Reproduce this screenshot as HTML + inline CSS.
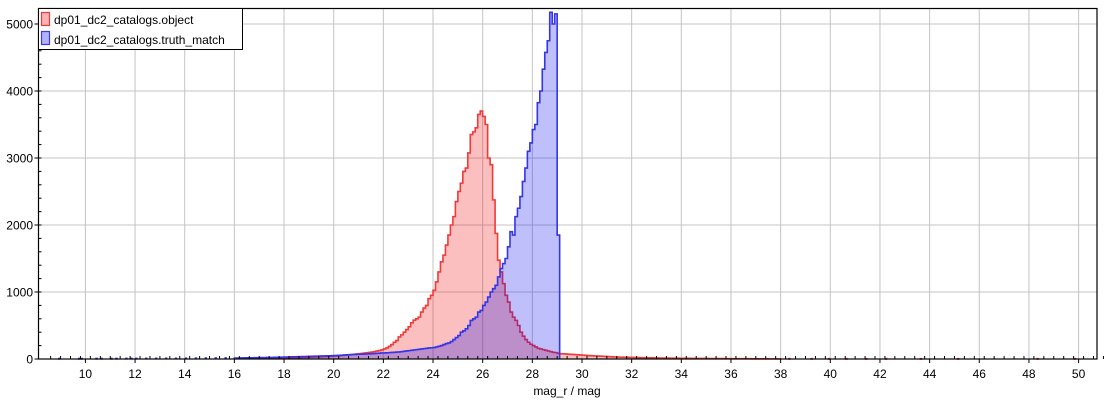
<!DOCTYPE html>
<html><head><meta charset="utf-8"><style>
body{margin:0;background:#fff;}
svg{display:block;font-family:"Liberation Sans","DejaVu Sans",sans-serif;}
</style></head><body>
<svg id="chart" width="1107" height="400" xmlns="http://www.w3.org/2000/svg">
<rect x="0" y="0" width="1107" height="400" fill="#fff"/>
<g id="grid"></g>
<g id="series"></g>
<g id="axes"></g>
<text x="567" y="395" font-size="12" text-anchor="middle" fill="#000">mag_r / mag</text>
<g>
<rect x="38.5" y="8.5" width="204" height="41" fill="#fff" stroke="#000" stroke-width="1"/>
<g>
<rect x="41.5" y="12.5" width="8" height="13" fill="rgba(240,0,0,0.3)" stroke="#f03a3a" stroke-width="1.2"/>
<text x="54" y="24" font-size="12" fill="#000">dp01_dc2_catalogs.object</text></g>
<g>
<rect x="41.5" y="31.5" width="8" height="13" fill="rgba(0,0,240,0.3)" stroke="#3a3af0" stroke-width="1.2"/>
<text x="54" y="44" font-size="12" fill="#000">dp01_dc2_catalogs.truth_match</text></g>
</g>
</svg>
<script>
// x ticks, y ticks
const xTicks = [10,12,14,16,18,20,22,24,26,28,30,32,34,36,38,40,42,44,46,48,50];
const yTicks = [0,1000,2000,3000,4000,5000];
const binWidth = 0.1;
// object (red): bins starting at 16.0
const redStart = 16.0;
const redCounts = [
5,5,6,6,7,7,8,8,9,9,
10,10,11,12,12,13,14,14,15,16,
17,18,19,20,20,21,22,23,24,25,
27,28,30,31,33,34,36,38,40,42,
45,48,50,53,56,60,63,67,70,75,
80,84,88,93,98,104,110,118,126,135,
150,165,190,215,250,275,330,360,400,440,
480,540,580,600,625,700,760,800,900,950,
1025,1150,1300,1450,1550,1700,1850,2000,2125,2350,
2500,2625,2800,2850,3075,3350,3390,3450,3650,3700,
3620,3500,3000,2900,2375,1875,1475,1300,1125,950,
850,700,625,575,500,400,340,290,250,220,
200,180,160,150,140,130,120,110,100,95,
85,80,78,75,72,70,68,65,62,60,
58,55,52,50,48,46,44,42,40,38,
36,34,32,30,29,28,27,26,25,24,
23,22,21,20,20,19,18,18,17,16,
16,15,15,14,14,13,13,12,12,11,
11,10,10,10,9,9,9,8,8,8,
8,7,7,7,6,6,6,6,5,5,
5,5,5,4,4,4,4,4,3,3,
3,3,3,3,3,2,2,2,2,2
];
// truth_match (blue): bins starting at 16.0
const blueStart = 16.0;
const blueCounts = [
15,15,16,16,17,17,18,18,19,20,
21,22,22,23,24,24,25,26,27,28,
29,30,31,32,33,34,35,36,37,38,
40,41,42,43,44,45,46,47,48,50,
52,54,56,58,60,62,64,66,68,70,
71,72,74,75,77,79,81,84,87,90,
90,92,95,98,100,103,106,110,115,120,
125,130,135,140,145,150,155,160,165,168,
170,180,190,200,215,230,240,260,290,320,
350,400,420,450,500,575,600,625,700,725,
800,850,925,1000,1050,1100,1225,1350,1425,1500,
1675,1900,1850,2125,2250,2425,2650,2850,3100,3225,
3425,3500,3825,4000,4325,4575,4750,5175,5000,5150,
1850
];
// sparse tail bins [mag, count]
const redSparseMags = [38.3,39.2,39.9,40.6,41.4,42.2,43.6,45.1,48.3,49.8];
const redSparseCounts = [3,2,2,2,2,2,2,2,2,2];
const blueSparseMags = [8.9,9.7,9.8,10.4,10.6,11.0,11.2,11.6,11.8,12.0,12.4,12.8,13.2,13.6,14.0,14.4,14.8,15.2,15.6];
const blueSparseCounts = [4,4,4,5,5,5,5,6,6,6,7,7,8,8,9,10,11,12,13];

const NS = "http://www.w3.org/2000/svg";
const L = 38.5, R = 1097, T = 8.5, B = 359;
function xs(v){ return 85.4 + (v - 10) * 24.83; }
function ys(v){ return 359 - v * 0.067; }
function mk(tag, attrs, parent){
  const e = document.createElementNS(NS, tag);
  for (const k in attrs) e.setAttribute(k, attrs[k]);
  parent.appendChild(e); return e;
}
const grid = document.getElementById('grid');
const axes = document.getElementById('axes');
const series = document.getElementById('series');
xTicks.forEach(t => {
  const ln = mk('line', {x1:xs(t), x2:xs(t), y1:T, y2:B, stroke:'#c4c4c4', 'stroke-width':1}, grid);
  
  
  const tx = mk('text', {x:xs(t), y:378, 'font-size':12, 'text-anchor':'middle', fill:'#000'}, axes);
  tx.textContent = t;
  
  
});
yTicks.forEach(t => {
  if (t > 0) {
    const ln = mk('line', {x1:L, x2:R, y1:ys(t), y2:ys(t), stroke:'#c4c4c4', 'stroke-width':1}, grid);
    
    
  }
  const tx = mk('text', {x:33, y:ys(t) + 4.5, 'font-size':12, 'text-anchor':'end', fill:'#000'}, axes);
  tx.textContent = t;
  
  
  mk('line', {x1:L-4, x2:L, y1:ys(t), y2:ys(t), stroke:'#000'}, axes);
});
for (let v = 0; v <= 5200; v += 200) mk('line', {x1:L, x2:L+3, y1:ys(v), y2:ys(v), stroke:'#000'}, axes);
for (let m = 8.6; m <= 51; m += 0.4) mk('line', {x1:xs(m), x2:xs(m), y1:B, y2:B-3, stroke:'#000'}, axes);
xTicks.forEach(t => mk('line', {x1:xs(t), x2:xs(t), y1:B, y2:B+4, stroke:'#000'}, axes));
mk('rect', {x:L, y:T, width:R-L, height:B-T, fill:'none', stroke:'#000', 'stroke-width':1.2}, axes);

function drawHist(start, counts, sMags, sCounts, fill, stroke, name){
  let d = 'M' + xs(start) + ',' + ys(0);
  counts.forEach((c, i) => {
    const x0 = xs(start + i*binWidth), x1 = xs(start + (i+1)*binWidth);
    d += ' L' + x0 + ',' + ys(c) + ' L' + x1 + ',' + ys(c);
  });
  d += ' L' + xs(start + counts.length*binWidth) + ',' + ys(0);
  const p = mk('path', {d:d + ' Z', fill:fill, stroke:'none'}, series);
  
  
  const s = mk('path', {d:d, fill:'none', stroke:stroke, 'stroke-width':1.6}, series);
  
  
  sMags.forEach((m, i) => {
    const b = mk('rect', {x:xs(m), y:ys(sCounts[i]) - 1, width:binWidth*24.83, height:Math.max(2, sCounts[i]*0.067 + 1), fill:stroke}, series);
    
    
  });
}
drawHist(redStart, redCounts, redSparseMags, redSparseCounts, 'rgba(240,0,0,0.25)', '#f03a3a', 'object-histogram');
drawHist(blueStart, blueCounts, blueSparseMags, blueSparseCounts, 'rgba(0,0,240,0.25)', '#3535e8', 'truth-match-histogram');
</script>
</body></html>
